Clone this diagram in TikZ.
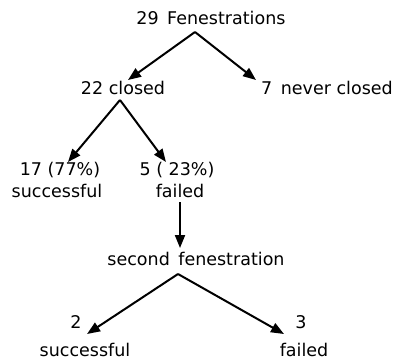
\documentclass[tikz,border=0pt]{standalone}
\usepackage{fontspec}
\setmainfont{DejaVu Sans}
\usetikzlibrary{arrows.meta}
\begin{document}
\begin{tikzpicture}[x=1pt,y=-1pt,
  lbl/.style={inner sep=0pt,font=\fontsize{17.5}{20}\selectfont},
  arr/.style={line width=2pt,-{Triangle[length=13pt,width=10pt]}}]
\useasboundingbox (0,0) rectangle (395,360);
\node[lbl] (fen) at (211,18) {29\ \,Fenestrations};
\node[lbl] (c22) at (123,88) {22 closed};
\node[lbl] (n7) at (327,88) {7\ \,never closed};
\node[lbl] (p17) at (60,170) {17 (77\%)};
\node[lbl] (p5) at (177,170) {5 ( 23\%)};
\node[lbl] (s1) at (57,191) {successful};
\node[lbl] (f1) at (180,191) {failed};
\node[lbl] (sec) at (196,259) {second\ \,fenestration};
\node[lbl] (two) at (76,322) {2};
\node[lbl] (three) at (301,322) {3};
\node[lbl] (s2) at (85,350) {successful};
\node[lbl] (f2) at (304,350) {failed};
\coordinate (a1) at (195,32);
\coordinate (t22) at (128,80);
\coordinate (t7) at (256,80);
\coordinate (a2) at (120,100);
\coordinate (t17) at (68,162);
\coordinate (t5) at (166,162);
\coordinate (a3) at (180,202);
\coordinate (t3) at (180,248);
\coordinate (a4) at (178,274);
\coordinate (t2) at (87,334);
\coordinate (t33) at (284,334);
\draw[arr] (a1) -- (t22);
\draw[arr] (a1) -- (t7);
\draw[arr] (a2) -- (t17);
\draw[arr] (a2) -- (t5);
\draw[arr] (a3) -- (t3);
\draw[arr] (a4) -- (t2);
\draw[arr] (a4) -- (t33);
\end{tikzpicture}
\end{document}
